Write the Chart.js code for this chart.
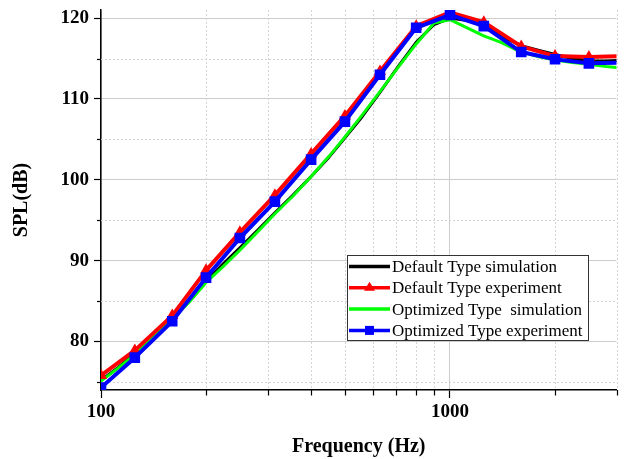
<!DOCTYPE html>
<html><head><meta charset="utf-8">
<script src="https://cdn.jsdelivr.net/npm/chart.js@4/dist/chart.umd.min.js"></script>
<style>html,body{margin:0;padding:0;background:#fff;}canvas{display:block;}</style>
</head><body>
<canvas id="c" width="624" height="459"></canvas>
<script>
// ---- data ----
const expFreq = [100,125,160,200,250,315,400,500,630,800,1000,1250,1600,2000,2500,3150];
const defaultExp = [75.8,78.9,83.2,88.8,93.5,98.1,103.2,107.9,113.4,119.0,120.7,119.5,116.5,115.3,115.2,115.3];
const optimizedExp = [74.3,78.0,82.5,87.9,92.8,97.3,102.5,107.2,113.0,118.8,120.4,119.0,115.8,114.9,114.4,114.5];
const simFreq = [100,112,125,140,160,180,200,224,250,280,315,355,400,450,500,560,630,710,800,900,1000,1120,1250,1400,1600,1800,2000,2240,2500,2800,3150];
const defaultSim = [75.2,76.8,78.5,80.5,82.8,85.1,87.4,89.6,91.6,93.7,95.9,98.1,100.4,102.8,105.2,107.8,110.8,114.0,117.0,119.2,120.0,119.7,119.1,117.8,116.6,116.0,115.5,115.0,114.7,114.7,114.8];
const optimizedSim = [75.1,76.7,78.4,80.5,82.8,85.0,87.3,89.3,91.3,93.5,95.8,98.0,100.4,102.9,105.3,108.0,110.9,113.9,116.8,119.4,119.8,118.8,117.8,117.0,115.8,115.2,114.8,114.5,114.3,114.0,113.8];
const seriesNames = ['Default Type simulation','Default Type experiment','Optimized Type  simulation','Optimized Type experiment'];
const xTickLabels = [100,1000];
const yTickLabels = [80,90,100,110,120];
const xMinorTicks = [200,300,400,500,600,700,800,900,2000,3000];
const yMinorTicks = [75,85,95,105,115];

const pts = (xs, ys) => xs.map((x,i)=>({x, y: ys[i]}));

const minorPlugin = {
  id: 'minor',
  beforeDatasetsDraw(chart) {
    const {ctx, chartArea: a, scales: {x, y}} = chart;
    ctx.save();
    ctx.strokeStyle = '#d4d4d4'; ctx.lineWidth = 1; ctx.setLineDash([2,2]);
    xMinorTicks.forEach(v => { const px = Math.round(x.getPixelForValue(v)) + 0.5;
      ctx.beginPath(); ctx.moveTo(px, a.top); ctx.lineTo(px, a.bottom); ctx.stroke(); });
    yMinorTicks.forEach(v => { const py = Math.round(y.getPixelForValue(v)) + 0.5;
      ctx.beginPath(); ctx.moveTo(a.left, py); ctx.lineTo(a.right, py); ctx.stroke(); });
    ctx.restore();
  },
  afterDraw(chart) {
    const {ctx, chartArea: a, scales: {x, y}} = chart;
    ctx.save();
    ctx.strokeStyle = '#000'; ctx.lineWidth = 1.2; ctx.setLineDash([]);
    xMinorTicks.forEach(v => { const px = Math.round(x.getPixelForValue(v)) + 0.5;
      ctx.beginPath(); ctx.moveTo(px, a.bottom); ctx.lineTo(px, a.bottom + 5.5); ctx.stroke(); });
    yMinorTicks.forEach(v => { const py = Math.round(y.getPixelForValue(v)) + 0.5;
      ctx.beginPath(); ctx.moveTo(a.left, py); ctx.lineTo(a.left - 4, py); ctx.stroke(); });
    ctx.restore();
  }
};

const legendPlugin = {
  id: 'boxLegend',
  afterDatasetsDraw(chart) {
    const {ctx, chartArea: a} = chart;
    const x0 = a.left + 246, y0 = a.top + 245, w = 241, h = 85;
    ctx.save();
    ctx.fillStyle = '#fff'; ctx.fillRect(x0, y0, w, h);
    ctx.strokeStyle = '#333'; ctx.lineWidth = 1; ctx.strokeRect(x0 + 0.5, y0 + 0.5, w, h);
    chart.data.datasets.forEach((ds, i) => {
      const cy = y0 + 11.5 + i * 21.3;
      ctx.strokeStyle = ds.borderColor; ctx.lineWidth = 3.5;
      ctx.beginPath(); ctx.moveTo(x0 + 2, cy); ctx.lineTo(x0 + 43, cy); ctx.stroke();
      const mx = x0 + 22.5;
      ctx.fillStyle = ds.borderColor;
      if (ds.pointStyle === 'triangle' && ds.pointRadius > 0) {
        ctx.beginPath(); ctx.moveTo(mx, cy - 6); ctx.lineTo(mx + 5.5, cy + 3); ctx.lineTo(mx - 5.5, cy + 3); ctx.closePath(); ctx.fill();
      } else if (ds.pointStyle === 'rect' && ds.pointRadius > 0) {
        ctx.fillRect(mx - 4.5, cy - 4.5, 9, 9);
      }
      ctx.fillStyle = '#000'; ctx.font = '17px "Liberation Serif"'; ctx.textBaseline = 'middle'; ctx.textAlign = 'left';
      ctx.fillText(ds.label, x0 + 45, cy + 1);
    });
    ctx.restore();
  }
};

const tickFont = {family: '"Liberation Serif"', size: 19, weight: 'bold'};
const titleFont = {family: '"Liberation Serif"', size: 20, weight: 'bold', lineHeight: 1.2};

new Chart(document.getElementById('c'), {
  type: 'line',
  data: {
    datasets: [
      {label: seriesNames[0], data: pts(simFreq, defaultSim), borderColor: '#000000', backgroundColor: '#000000', borderWidth: 3, pointRadius: 0, order: 4},
      {label: seriesNames[1], data: pts(expFreq, defaultExp), borderColor: '#ff0000', backgroundColor: '#ff0000', borderWidth: 4, pointStyle: 'triangle', pointRadius: 7, pointBorderWidth: 0, order: 2},
      {label: seriesNames[2], data: pts(simFreq, optimizedSim), borderColor: '#00ff00', backgroundColor: '#00ff00', borderWidth: 3, pointRadius: 0, order: 3},
      {label: seriesNames[3], data: pts(expFreq, optimizedExp), borderColor: '#0000ff', backgroundColor: '#0000ff', borderWidth: 4, pointStyle: 'rect', pointRadius: 7.5, pointBorderWidth: 0, order: 1}
    ]
  },
  options: {
    responsive: false, animation: false, devicePixelRatio: 1,
    layout: {padding: {top: 10, right: 2, left: 0, bottom: 0}},
    plugins: {legend: {display: false}, tooltip: {enabled: false}},
    elements: {line: {tension: 0, borderJoinStyle: 'round', borderCapStyle: 'round'}},
    scales: {
      x: {
        type: 'logarithmic', min: 100, max: 3000,
        afterBuildTicks: s => { s.ticks = xTickLabels.map(v => ({value: v, major: true})); },
        afterFit: s => { s.height = 69; s.paddingLeft = 0; s.paddingRight = 0; },
        border: {color: '#000', width: 1.5},
        grid: {color: '#cccccc', lineWidth: 1, tickColor: '#000', tickLength: 8, tickWidth: 1.2},
        ticks: {autoSkip: false, maxRotation: 0, padding: 3, color: '#000', font: tickFont,
          callback: v => String(v)},
        title: {display: true, text: 'Frequency (Hz)', color: '#000', font: titleFont, padding: {top: 0, bottom: 0}}
      },
      y: {
        type: 'linear', min: 74, max: 121,
        afterBuildTicks: s => { s.ticks = yTickLabels.map(v => ({value: v})); },
        afterFit: s => { s.width = 101; s.paddingTop = 0; s.paddingBottom = 0; },
        border: {color: '#000', width: 1.5},
        grid: {color: '#cccccc', lineWidth: 1, tickColor: '#000', tickLength: 7, tickWidth: 1.2},
        ticks: {autoSkip: false, padding: 5, color: '#000', font: tickFont,
          callback: v => String(v)},
        title: {display: true, text: 'SPL(dB)', color: '#000', font: titleFont, padding: {top: 10, bottom: 0}}
      }
    }
  },
  plugins: [minorPlugin, legendPlugin]
});
</script>
</body></html>
